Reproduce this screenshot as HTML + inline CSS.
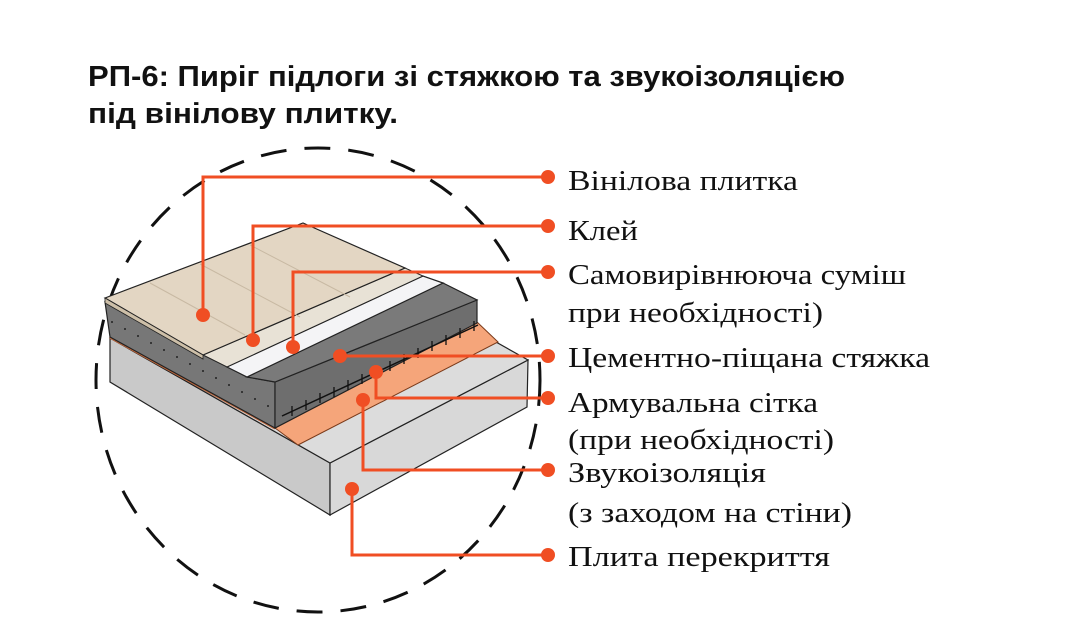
<!DOCTYPE html>
<html><head><meta charset="utf-8"><style>
html,body{margin:0;padding:0;background:#fff;width:1080px;height:637px;overflow:hidden}
</style></head><body>
<svg width="1080" height="637" viewBox="0 0 1080 637" xmlns="http://www.w3.org/2000/svg">
<text x="88" y="86" font-family="Liberation Sans, sans-serif" font-weight="bold" font-size="29" textLength="757" lengthAdjust="spacingAndGlyphs" fill="#111">РП-6: Пиріг підлоги зі стяжкою та звукоізоляцією</text>
<text x="88" y="123" font-family="Liberation Sans, sans-serif" font-weight="bold" font-size="29" textLength="310" lengthAdjust="spacingAndGlyphs" fill="#111">під вінілову плитку.</text>

<ellipse cx="318" cy="380" rx="222" ry="232" fill="none" stroke="#111" stroke-width="3" stroke-dasharray="26 18"/>

<!-- slab -->
<polygon points="110,338 330,463 330,515 110,382" fill="#c9c9c9" stroke="#222" stroke-width="1.2"/>
<polygon points="330,463 528,360 527,407 330,515" fill="#d8d8d8" stroke="#222" stroke-width="1.2"/>
<polygon points="110,338 300,232 528,360 330,463" fill="#dcdcdc" stroke="#222" stroke-width="1.2"/>
<!-- orange insulation -->
<polygon points="275,428 477,322 498,342 298,445" fill="#f5a57a" stroke="#7a3a1a" stroke-width="1"/>
<polyline points="110,337 275,428" fill="none" stroke="#c0663a" stroke-width="3"/>
<!-- screed -->
<polygon points="105,302 247,377 275,382 275,428 110,337" fill="#777" stroke="#222" stroke-width="1.2"/>
<polygon points="275,382 477,300 477,323 275,428" fill="#6e6e6e" stroke="#222" stroke-width="1.2"/>
<polygon points="247,377 443,283 477,300 275,382" fill="#7a7a7a" stroke="#222" stroke-width="1.2"/>
<g fill="#222">
<circle cx="112" cy="322" r="1"/><circle cx="125" cy="329" r="1"/><circle cx="138" cy="336" r="1"/><circle cx="151" cy="343" r="1"/><circle cx="164" cy="350" r="1"/><circle cx="177" cy="357" r="1"/><circle cx="190" cy="364" r="1"/><circle cx="203" cy="371" r="1"/><circle cx="216" cy="378" r="1"/><circle cx="229" cy="385" r="1"/><circle cx="242" cy="392" r="1"/><circle cx="255" cy="399" r="1"/><circle cx="268" cy="406" r="1"/>
</g>
<line x1="282" y1="416" x2="478" y2="325" stroke="#111" stroke-width="1.5"/>
<g stroke="#111" stroke-width="1.3">
<path d="M292,406v10M306,400v10M320,393v10M334,387v10M348,380v10M362,374v10M376,367v10M390,361v10M404,354v10M418,348v10M432,341v10M446,335v10M460,328v10M474,321v10"/>
</g>
<!-- white band -->
<polygon points="227,367 423,276 443,283 247,377" fill="#f4f4f6" stroke="#222" stroke-width="1.2"/>
<polygon points="203,355 405,268 423,276 227,367" fill="#e8e2d6" stroke="#222" stroke-width="1"/>
<!-- tile -->
<polygon points="105,298 303,223 405,268 203,355" fill="#e3d6c3" stroke="#222" stroke-width="1.2"/>
<polygon points="105,298 203,355 203,359 105,303" fill="#cdbfa8" stroke="#222" stroke-width="0.8"/>
<line x1="150" y1="283" x2="245" y2="335" stroke="#c8b9a3" stroke-width="1"/>
<line x1="200" y1="264" x2="300" y2="317" stroke="#c8b9a3" stroke-width="1"/>
<line x1="250" y1="245" x2="350" y2="297" stroke="#c8b9a3" stroke-width="1"/>

<g stroke="#f04e23" stroke-width="3" fill="none">
<polyline points="548,177 203,177 203,315"/>
<polyline points="548,226 253,226 253,340"/>
<polyline points="548,272 293,272 293,347"/>
<polyline points="548,356 340,356"/>
<polyline points="548,398 376,398 376,372"/>
<polyline points="548,470 363,470 363,400"/>
<polyline points="548,555 352,555 352,489"/>
</g>
<g fill="#f04e23">
<circle cx="548" cy="177" r="7"/><circle cx="203" cy="315" r="7"/>
<circle cx="548" cy="226" r="7"/><circle cx="253" cy="340" r="7"/>
<circle cx="548" cy="272" r="7"/><circle cx="293" cy="347" r="7"/>
<circle cx="548" cy="356" r="7"/><circle cx="340" cy="356" r="7"/>
<circle cx="548" cy="398" r="7"/><circle cx="376" cy="372" r="7"/>
<circle cx="548" cy="470" r="7"/><circle cx="363" cy="400" r="7"/>
<circle cx="548" cy="555" r="7"/><circle cx="352" cy="489" r="7"/>
</g>
<g font-family="Liberation Serif, serif" font-size="28" fill="#111">
<text x="568" y="190" textLength="230" lengthAdjust="spacingAndGlyphs">Вінілова плитка</text>
<text x="568" y="240" textLength="70" lengthAdjust="spacingAndGlyphs">Клей</text>
<text x="568" y="284" textLength="338" lengthAdjust="spacingAndGlyphs">Самовирівнююча суміш</text>
<text x="568" y="322" textLength="255" lengthAdjust="spacingAndGlyphs">при необхідності)</text>
<text x="568" y="367" textLength="362" lengthAdjust="spacingAndGlyphs">Цементно-піщана стяжка</text>
<text x="568" y="412" textLength="250" lengthAdjust="spacingAndGlyphs">Армувальна сітка</text>
<text x="568" y="449" textLength="266" lengthAdjust="spacingAndGlyphs">(при необхідності)</text>
<text x="568" y="482" textLength="198" lengthAdjust="spacingAndGlyphs">Звукоізоляція</text>
<text x="568" y="522" textLength="284" lengthAdjust="spacingAndGlyphs">(з заходом на стіни)</text>
<text x="568" y="566" textLength="262" lengthAdjust="spacingAndGlyphs">Плита перекриття</text>
</g>
</svg>
</body></html>
